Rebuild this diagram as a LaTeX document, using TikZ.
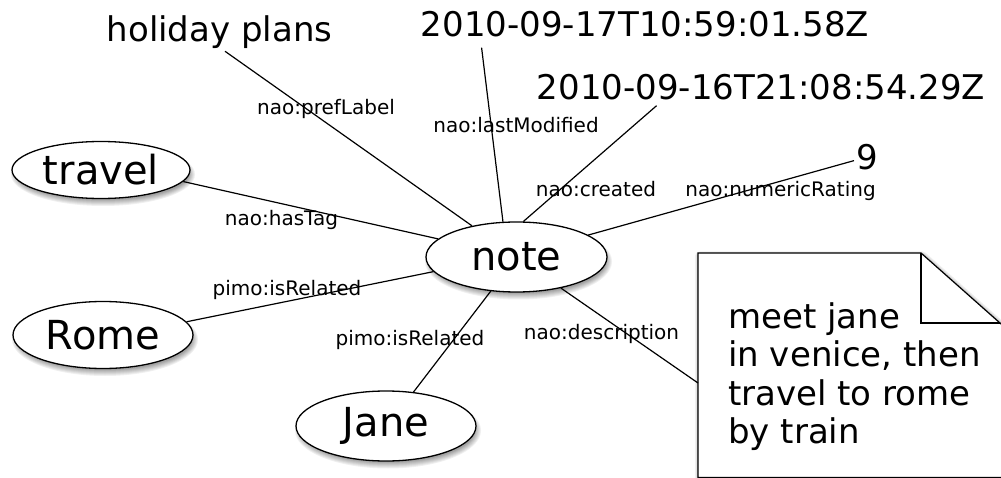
\documentclass[tikz,border=0pt]{standalone}
\usepackage{fontspec}
\setmainfont{DejaVu Sans}
\usetikzlibrary{shapes.geometric}
\definecolor{sh1}{rgb}{0.94,0.94,0.94}
\definecolor{sh2}{rgb}{0.89,0.89,0.89}
\definecolor{sh3}{rgb}{0.84,0.84,0.84}
\definecolor{sh4}{rgb}{0.79,0.79,0.79}
\definecolor{sh5}{rgb}{0.74,0.74,0.74}
\definecolor{sh6}{rgb}{0.69,0.69,0.69}
\definecolor{sh7}{rgb}{0.64,0.64,0.64}
\newcommand\entshadow[4]{% center x, center y, rx, ry
  \fill[sh1] (#1+2,#2+4.5) ellipse ({#3+3} and {#4+3});
  \fill[sh2] (#1+2,#2+4.5) ellipse ({#3+2} and {#4+2});
  \fill[sh3] (#1+2,#2+4.5) ellipse ({#3+1} and {#4+1});
  \fill[sh4] (#1+2,#2+4.5) ellipse ({#3} and {#4});
  \fill[sh5] (#1+2,#2+4.5) ellipse ({#3-1} and {#4-1});
  \fill[sh6] (#1+2,#2+4.5) ellipse ({#3-2} and {#4-2});
  \fill[sh7] (#1+2,#2+4.5) ellipse ({#3-3} and {#4-3});}
\begin{document}
\begin{tikzpicture}[x=1pt,y=-1pt,
  ent/.style={ellipse,draw=black,line width=1.3pt,fill=white,inner sep=0pt,
    font=\fontsize{40}{48}\selectfont},
  lit/.style={inner sep=0pt,anchor=base,font=\fontsize{34}{40}\selectfont},
  lab/.style={inner sep=0pt,anchor=base,font=\fontsize{20}{24}\selectfont},
  rel/.style={line width=1.2pt,draw=black}]
\useasboundingbox (0,0) rectangle (1001,478);

% shadows (drawn first, under the shapes)
\entshadow{516.5}{257}{90.5}{35}
\entshadow{101}{170}{89}{28.5}
\entshadow{103}{335}{90}{33.5}
\entshadow{386}{426}{90}{35}
\draw[line width=9pt,draw=sh1,line join=round]
  (699.5,256) -- (922.5,256) -- (1004.5,328.7) -- (1004.5,480) -- (699.5,480) -- cycle;
\draw[line width=7pt,draw=sh2,line join=round]
  (699.5,256) -- (922.5,256) -- (1004.5,328.7) -- (1004.5,480) -- (699.5,480) -- cycle;
\draw[line width=5pt,draw=sh4,line join=round]
  (699.5,256) -- (922.5,256) -- (1004.5,328.7) -- (1004.5,480) -- (699.5,480) -- cycle;
\draw[line width=3pt,draw=sh6,line join=round]
  (699.5,256) -- (922.5,256) -- (1004.5,328.7) -- (1004.5,480) -- (699.5,480) -- cycle;

% resources
\node[ent,minimum width=181pt,minimum height=70pt] (note) at (516.5,257) {note};
\node[ent,minimum width=178pt,minimum height=57pt] (travel) at (101,170) {travel};
\node[ent,minimum width=180pt,minimum height=67pt] (rome) at (103,335) {Rome};
\node[ent,minimum width=180pt,minimum height=70pt] (jane) at (386,426) {Jane};

% literals
\node[lit] (hp) at (219.5,42) {holiday plans};
\node[lit] (d1) at (645,37) {2010-09-17T10:59:01.58Z};
\node[lit] (d2) at (761,100) {2010-09-16T21:08:54.29Z};
\node[lit] (nine) at (867,170) {9};

% memo (folded note)
\draw[line width=1.2pt,fill=white]
  (698,253) -- (921,253) -- (1003,325.7) -- (1003,477.5) -- (698,477.5) -- cycle;
\draw[line width=1.2pt] (921,253) -- (921,323) -- (1000,323);
\node[inner sep=0pt,anchor=base west,align=left,
  font=\fontsize{34}{38.5}\selectfont] (memo) at (728,443.5)
  {meet jane\\in venice, then\\travel to rome\\by train};
\coordinate (memoin) at (698,383);

% edge labels
\node[lab] (lpref) at (326,115) {nao:prefLabel};
\node[lab] (lmod) at (516,133) {nao:lastModified};
\node[lab] (lcre) at (596,197) {nao:created};
\node[lab] (lnum) at (780.5,197) {nao:numericRating};
\node[lab] (ltag) at (281.5,226) {nao:hasTag};
\node[lab] (lrel1) at (287,295) {pimo:isRelated};
\node[lab] (lrel2) at (410,345) {pimo:isRelated};
\node[lab] (ldesc) at (601.5,339) {nao:description};

% connectors (end on the node borders, drawn over the shadows)
\draw[rel] ([xshift=5.5pt,yshift=-2pt]hp.south) -- (note.145);
\draw[rel] ([xshift=61pt,yshift=-10pt]d1.south west) -- (note.111);
\draw[rel] ([xshift=120pt,yshift=-5pt]d2.south west) -- (note.79.5);
\draw[rel] ([xshift=-2pt,yshift=-3pt]nine.west) -- (note.17);
\draw[rel] (travel.-8) -- (note.167.5);
\draw[rel] (rome.9.7) -- (note.190.8);
\draw[rel] (jane.51.5) -- (note.233);
\draw[rel] (note.-35) -- (memoin);
\end{tikzpicture}
\end{document}
